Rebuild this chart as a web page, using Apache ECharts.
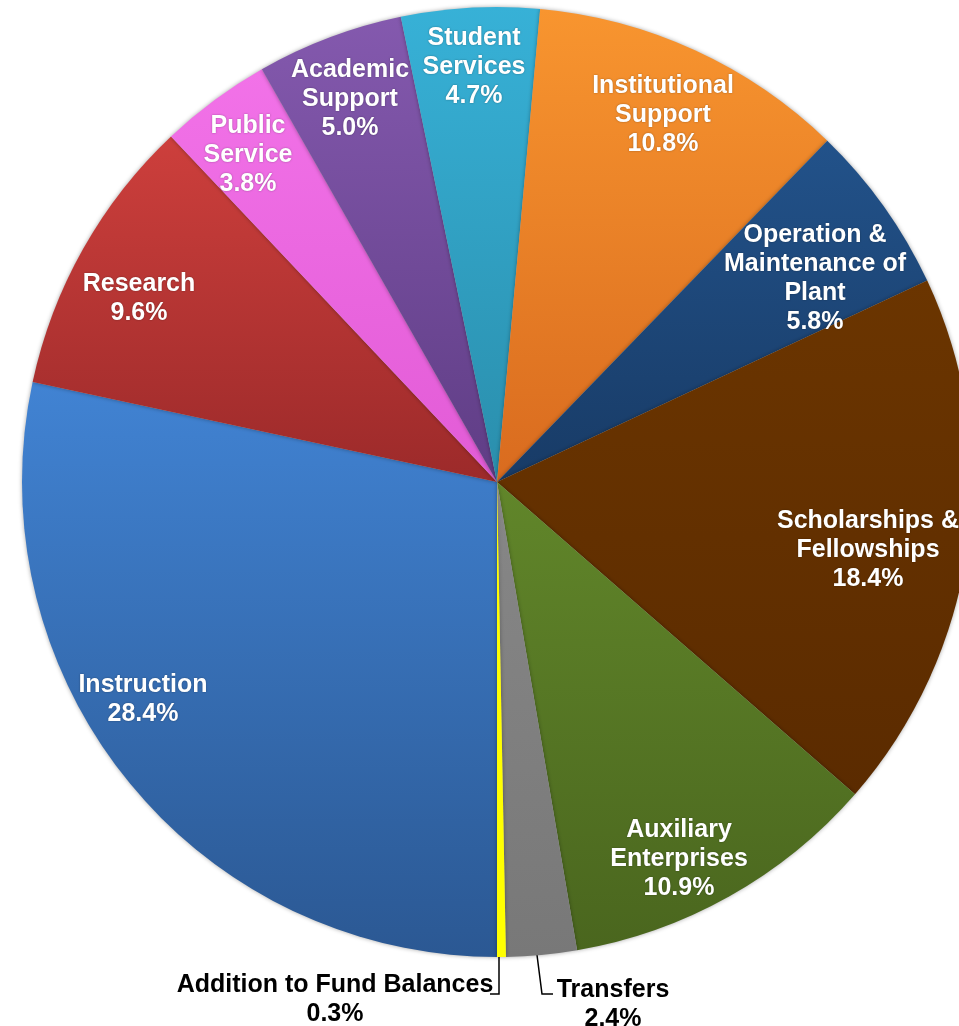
<!DOCTYPE html>
<html>
<head>
<meta charset="utf-8">
<script src="https://cdn.jsdelivr.net/npm/echarts@6/dist/echarts.min.js"></script>
<style>
  html, body { margin: 0; padding: 0; background: #ffffff; }
  #chart { width: 959px; height: 1026px; }
</style>
</head>
<body>
<div id="chart"></div>
<script>
// Expenditure categories, clockwise from the bottom of the pie
const categories = [
  'Instruction',
  'Research',
  'Public\nService',
  'Academic\nSupport',
  'Student\nServices',
  'Institutional\nSupport',
  'Operation &\nMaintenance of\nPlant',
  'Scholarships &\nFellowships',
  'Auxiliary\nEnterprises',
  'Transfers',
  'Addition to Fund Balances'
];

// Share of total expenditure, percent
const shares = [28.4, 9.6, 3.8, 5.0, 4.7, 10.8, 5.8, 18.4, 10.9, 2.4, 0.3];

// Slice fills: lighter at the top of each slice, darker at the bottom
const topColors = ['#4183d3', '#cd3f3c', '#f272e8', '#8459ae', '#37b1d7', '#f8952f', '#22528a', '#6b3500', '#61862a', '#878787', '#ffff00'];
const bottomColors = ['#2b5893', '#9c2a2a', '#e25bd6', '#5f3d85', '#2a8eac', '#d96b1f', '#183b66', '#5b2b00', '#4a661e', '#787878', '#ffff00'];

// Label anchor points (pixels) and which labels sit outside with leader lines
const labelPos = [
  [143, 700], [139, 299], [248, 155], [350, 99], [474, 67],
  [663, 115], [815, 279], [868, 550], [679, 859], [613, 1005], [335, 1000]
];
const outsideLabels = [9, 10];
const leaderPoints = {
  9: [[537, 955], [542, 994], [553, 994]],
  10: [[499, 957], [499, 994], [490, 994]]
};

const seriesData = shares.map(function (v, i) {
  const outside = outsideLabels.indexOf(i) >= 0;
  return {
    name: categories[i],
    value: v,
    itemStyle: {
      color: new echarts.graphic.LinearGradient(0, 0, 0, 1, [
        { offset: 0, color: topColors[i] },
        { offset: 1, color: bottomColors[i] }
      ])
    },
    label: outside ? {
      position: 'outside',
      color: '#000000',
      textShadowBlur: 0
    } : {
      position: 'inside'
    },
    labelLine: { show: outside }
  };
});

const chart = echarts.init(document.getElementById('chart'), null, { renderer: 'canvas' });

chart.setOption({
  animation: false,
  backgroundColor: '#ffffff',
  series: [{
    type: 'pie',
    center: [497, 482],
    radius: 475,
    startAngle: -90,
    clockwise: true,
    avoidLabelOverlap: false,
    silent: true,
    itemStyle: {
      borderWidth: 0,
      shadowBlur: 4,
      shadowColor: 'rgba(0,0,0,0.35)'
    },
    label: {
      show: true,
      fontFamily: '"Liberation Sans", Arial, sans-serif',
      fontWeight: 'bold',
      fontSize: 25,
      lineHeight: 29,
      color: '#ffffff',
      align: 'center',
      textShadowColor: 'rgba(0,0,0,0.35)',
      textShadowBlur: 2,
      formatter: function (p) {
        return p.name + '\n' + p.value.toFixed(1) + '%';
      }
    },
    labelLine: {
      show: false,
      lineStyle: { color: '#000000', width: 1.5 }
    },
    labelLayout: function (params) {
      const i = params.dataIndex;
      const out = {
        x: labelPos[i][0],
        y: labelPos[i][1],
        align: 'center',
        verticalAlign: 'middle'
      };
      if (leaderPoints[i]) {
        out.labelLinePoints = leaderPoints[i];
      }
      return out;
    },
    data: seriesData
  }]
});
</script>
</body>
</html>
